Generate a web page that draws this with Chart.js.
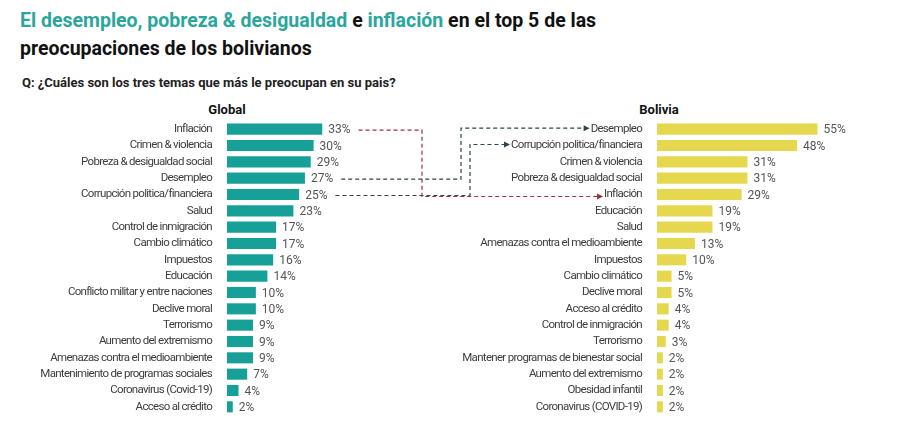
<!DOCTYPE html>
<html lang="es">
<head>
<meta charset="utf-8">
<script src="https://cdn.jsdelivr.net/npm/chart.js@4.4.1/dist/chart.umd.min.js"></script>
<style>
  body { margin: 0; background: #fff; width: 900px; height: 436px; overflow: hidden; position: relative; font-family: Roboto, sans-serif; }
  .t1, .t2 { position: absolute; left: 20px; font-weight: 700; font-size: 19.5px; line-height: 24px; color: #111; white-space: nowrap; }
  .t1 { top: 9px; }
  .t2 { top: 37px; }
  .teal { color: #2aa69c; }
  .q { position: absolute; left: 22px; top: 75px; font-size: 13px; font-weight: 700; color: #222; }
  .head { position: absolute; top: 102px; font-size: 13px; font-weight: 700; color: #111; transform: translateX(-50%); }
  .box { position: absolute; top: 121px; height: 294px; }
  #overlay { position: absolute; left: 0; top: 0; pointer-events: none; }
</style>
</head>
<body>
<div class="t1"><span class="teal">El desempleo, pobreza &amp; desigualdad</span> e <span class="teal">inflación</span> en el top 5 de las</div>
<div class="t2">preocupaciones de los bolivianos</div>
<div class="q">Q: ¿Cuáles son los tres temas que más le preocupan en su pais?</div>
<div class="head" style="left:227px">Global</div>
<div class="head" style="left:659px">Bolivia</div>
<div class="box" style="left:0;width:380px"><canvas id="globalChart"></canvas></div>
<div class="box" style="left:430px;width:440px"><canvas id="boliviaChart"></canvas></div>
<canvas id="overlay" width="900" height="436"></canvas>
<script>
const globalCats = ['Inflación', 'Crimen & violencia', 'Pobreza & desigualdad social', 'Desempleo',
  'Corrupción politica/financiera', 'Salud', 'Control de inmigración', 'Cambio climático', 'Impuestos',
  'Educación', 'Conflicto militar y entre naciones', 'Declive moral', 'Terrorismo', 'Aumento del extremismo',
  'Amenazas contra el medioambiente', 'Mantenimiento de programas sociales', 'Coronavirus (Covid-19)', 'Acceso al crédito'];
const globalVals = [33, 30, 29, 27, 25, 23, 17, 17, 16, 14, 10, 10, 9, 9, 9, 7, 4, 2];

const boliviaCats = ['Desempleo', 'Corrupción politica/financiera', 'Crimen & violencia', 'Pobreza & desigualdad social',
  'Inflación', 'Educación', 'Salud', 'Amenazas contra el medioambiente', 'Impuestos', 'Cambio climático',
  'Declive moral', 'Acceso al crédito', 'Control de inmigración', 'Terrorismo',
  'Mantener programas de bienestar social', 'Aumento del extremismo', 'Obesidad infantil', 'Coronavirus (COVID-19)'];
const boliviaVals = [55, 48, 31, 31, 29, 19, 19, 13, 10, 5, 5, 4, 4, 3, 2, 2, 2, 2];

// [ global category, bolivia category, colour, x of the vertical run ]
const links = [
  ['Inflación', 'Inflación', '#9e2f3c', 422],
  ['Desempleo', 'Desempleo', '#2f4548', 461],
  ['Corrupción politica/financiera', 'Corrupción politica/financiera', '#2f4548', 470]
];

const labelFont = '11.5px Roboto';
const labelSpacing = '-0.7px'; // the original uses a narrower typeface
const valueFont = '12px Roboto';

const narrowText = {
  id: 'narrowText',
  beforeDraw(chart) { chart.ctx.letterSpacing = labelSpacing; }
};

const valueLabels = {
  id: 'valueLabels',
  afterDatasetsDraw(chart) {
    const ctx = chart.ctx;
    const meta = chart.getDatasetMeta(0);
    ctx.save();
    ctx.letterSpacing = '0px';
    ctx.font = valueFont;
    ctx.fillStyle = '#555';
    ctx.textBaseline = 'middle';
    meta.data.forEach((bar, i) => {
      ctx.fillText(chart.data.datasets[0].data[i] + '%', bar.x + 6, bar.y + 1);
    });
    ctx.restore();
  }
};

function makeChart(id, cats, vals, color, max) {
  return new Chart(document.getElementById(id), {
    type: 'bar',
    data: {
      labels: cats,
      datasets: [{ data: vals, backgroundColor: color, barPercentage: 0.68, categoryPercentage: 1 }]
    },
    options: {
      indexAxis: 'y',
      responsive: true,
      maintainAspectRatio: false,
      animation: false,
      layout: { padding: 0 },
      plugins: { legend: { display: false }, tooltip: { enabled: false } },
      scales: {
        x: { display: false, min: 0, max: max },
        y: {
          grid: { display: false },
          border: { display: false },
          ticks: { color: '#3d3d3d', font: { family: 'Roboto', size: 11.5 }, padding: 7, autoSkip: false },
          afterFit(scale) {
            scale.width = 227;
            scale.paddingTop = 0;
            scale.paddingBottom = 0;
          }
        }
      }
    },
    plugins: [narrowText, valueLabels]
  });
}

const globalChart = makeChart('globalChart', globalCats, globalVals, '#17a097', 53);
const boliviaChart = makeChart('boliviaChart', boliviaCats, boliviaVals, '#e6d84e', 73);

function drawLinks() {
  const cv = document.getElementById('overlay');
  const ctx = cv.getContext('2d');
  ctx.clearRect(0, 0, cv.width, cv.height);
  const gBox = globalChart.canvas.parentNode, bBox = boliviaChart.canvas.parentNode;
  links.forEach(([gCat, bCat, col, vx]) => {
    const gi = globalCats.indexOf(gCat), bi = boliviaCats.indexOf(bCat);
    ctx.font = valueFont;
    ctx.letterSpacing = '0px';
    const gy = gBox.offsetTop + globalChart.scales.y.getPixelForValue(gi) + 1;
    const gx = gBox.offsetLeft + globalChart.scales.x.getPixelForValue(globalVals[gi]) + 6 +
      ctx.measureText(globalVals[gi] + '%').width + 8;
    ctx.font = labelFont;
    ctx.letterSpacing = labelSpacing;
    const by = bBox.offsetTop + boliviaChart.scales.y.getPixelForValue(bi) + (bCat === 'Inflación' ? 2 : -1);
    const bx = bBox.offsetLeft + boliviaChart.scales.x.left - 7 - ctx.measureText(bCat).width - 9;
    ctx.strokeStyle = col;
    ctx.fillStyle = col;
    ctx.lineWidth = 1.2;
    ctx.setLineDash([4, 3]);
    ctx.beginPath();
    ctx.moveTo(gx, gy);
    ctx.lineTo(vx, gy);
    ctx.lineTo(vx, by);
    ctx.lineTo(bx - 5, by);
    ctx.stroke();
    ctx.setLineDash([]);
    ctx.beginPath();
    ctx.moveTo(bx, by);
    ctx.lineTo(bx - 6, by - 3);
    ctx.lineTo(bx - 6, by + 3);
    ctx.closePath();
    ctx.fill();
  });
}
drawLinks();
</script>
</body>
</html>
